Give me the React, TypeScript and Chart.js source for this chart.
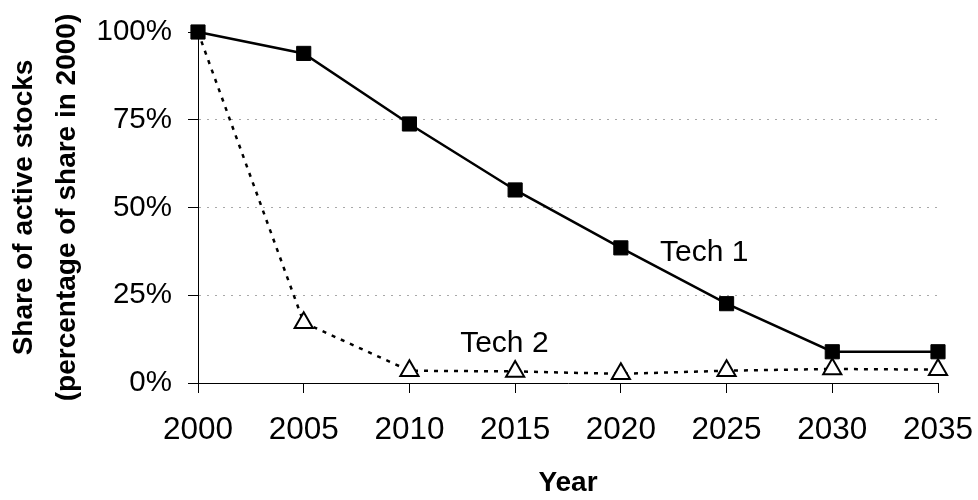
import React, { useEffect, useRef } from "react";
import { Chart, registerables } from "chart.js";

Chart.register(...registerables);

const years = ["2000", "2005", "2010", "2015", "2020", "2025", "2030", "2035"];
const tech1 = [100, 93.9, 73.8, 55.0, 38.5, 22.6, 8.9, 8.9];
const tech2 = [100, 17.2, 3.5, 3.3, 2.6, 3.5, 4.0, 3.8];
const yTickValues = [0, 25, 50, 75, 100];
const yTitle = ["Share of active stocks", "(percentage of share in 2000)"];
const xTitle = "Year";
const seriesNames = ["Tech 1", "Tech 2"];
// annotation anchors in data coordinates (category index, percent)
const labelX = [4.37, 2.48];
const labelY = [34.8, 8.8];

const FONT = "'Liberation Sans', Arial, sans-serif";

const labelPlugin = {
  id: "seriesLabels",
  afterDatasetsDraw(chart: any) {
    const { ctx, scales } = chart;
    ctx.save();
    ctx.font = `30px ${FONT}`;
    ctx.fillStyle = "#000";
    ctx.textAlign = "left";
    ctx.textBaseline = "alphabetic";
    seriesNames.forEach((name, i) => {
      const x = scales.x.getPixelForValue(labelX[i]);
      const y = scales.y.getPixelForValue(labelY[i]);
      ctx.fillText(name, x, y);
    });
    ctx.restore();
  },
};

export default function App() {
  const ref = useRef<HTMLCanvasElement | null>(null);
  useEffect(() => {
    if (!ref.current) return;
    const chart = new Chart(ref.current, {
      type: "line",
      data: {
        labels: years,
        datasets: [
          {
            label: seriesNames[0],
            data: tech1,
            borderColor: "#000",
            borderWidth: 2.5,
            tension: 0,
            pointStyle: "rect",
            pointRadius: 10,
            pointBackgroundColor: "#000",
            pointBorderColor: "#000",
            pointBorderWidth: 1,
            clip: false as any,
          },
          {
            label: seriesNames[1],
            data: tech2,
            borderColor: "#000",
            borderWidth: 2.5,
            borderDash: [4, 6],
            tension: 0,
            pointStyle: "triangle",
            // the first triangle sits hidden behind the Tech 1 square
            pointRadius: (c: any) => (c.dataIndex === 0 ? 0 : 10.5),
            pointBackgroundColor: "#fff",
            pointBorderColor: "#000",
            pointBorderWidth: 2,
            clip: false as any,
          },
        ],
      },
      options: {
        responsive: false,
        animation: false,
        devicePixelRatio: 1,
        layout: { padding: { left: 0, right: 40, top: 32, bottom: 0 } },
        plugins: {
          legend: { display: false },
          tooltip: { enabled: false },
          title: { display: false },
        },
        scales: {
          x: {
            type: "category",
            offset: false,
            grid: {
              display: true,
              drawOnChartArea: false,
              drawTicks: true,
              tickLength: 10,
              tickColor: "#000",
            },
            border: { display: true, color: "#000", width: 1 },
            ticks: {
              color: "#000",
              font: { family: FONT, size: 31.5 },
              padding: 18,
              maxRotation: 0,
              autoSkip: false,
            },
            title: {
              display: true,
              text: xTitle,
              color: "#000",
              font: { family: FONT, size: 28, weight: "bold" },
              padding: { top: 0, bottom: 0 },
            },
            afterFit(scale: any) {
              scale.height = 117;
              scale.paddingLeft = 0;
              scale.paddingRight = 0;
            },
          },
          y: {
            min: 0,
            max: 100,
            afterBuildTicks(scale: any) {
              scale.ticks = yTickValues.map((v) => ({ value: v }));
            },
            grid: {
              color: (c: any) =>
                c.tick && c.tick.value > 0 && c.tick.value < 100 ? "#a8a8a8" : "rgba(0,0,0,0)",
              lineWidth: 1,
              tickColor: "#000",
              tickLength: 10,
              drawTicks: true,
            },
            border: { display: true, color: "#000", width: 1, dash: [2, 6] },
            ticks: {
              color: "#000",
              font: { family: FONT, size: 29.5 },
              padding: 16,
              callback: (v: any) => `${v}%`,
            },
            title: {
              display: true,
              text: yTitle,
              color: "#000",
              font: { family: FONT, size: 28, weight: "bold", lineHeight: 1.54 },
              padding: { top: 3, bottom: 0 },
            },
            afterFit(scale: any) {
              scale.width = 198;
              scale.paddingTop = 0;
              scale.paddingBottom = 0;
            },
          },
        },
      },
      plugins: [labelPlugin],
    });
    return () => chart.destroy();
  }, []);
  return (
    <div style={{ position: "absolute", left: 0, top: 0, width: 978, height: 500, background: "#fff" }}>
      <canvas ref={ref} width={978} height={500} />
    </div>
  );
}
